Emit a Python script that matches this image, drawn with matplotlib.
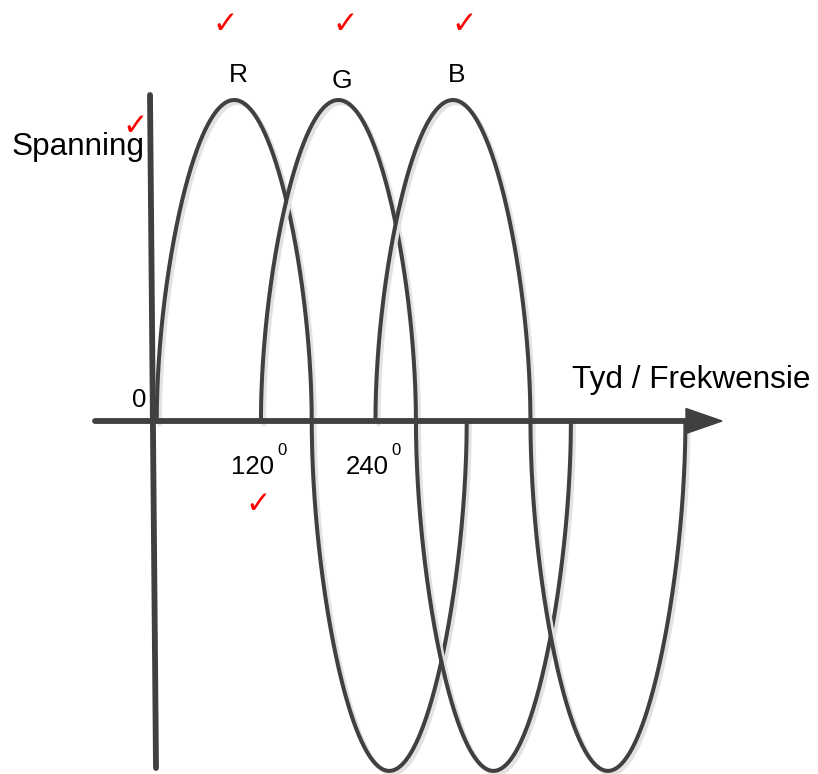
import numpy as np
import matplotlib.pyplot as plt
from matplotlib import patheffects as pe
from matplotlib.patches import Polygon

plt.rcParams['font.family'] = ['Liberation Sans', 'DejaVu Sans']

# three phase voltages, one cycle each, start angle (deg)
phases = ['R', 'G', 'B']
phase_start = [2, 123, 256]
amp_pos = [1.0, 1.0, 1.0]
amp_neg = [1.09, 1.09, 1.09]
lobe_shape = 0.53            # the sketch's lobes are fuller than a plain sine
tick_labels = ['120', '240']
tick_phase = [1, 2]          # which wave start the angle label sits under

W, H = 818, 774
X0, Y0 = 155, 421            # pixel position of origin
DPP = 360 / 310              # degrees per pixel
VPP = 1 / 321                # volts per pixel

def px(x):
    return (x - X0) * DPP

def py(y):
    return (Y0 - y) * VPP

fig = plt.figure(figsize=(W / 100, H / 100), dpi=100)
ax = fig.add_axes([0, 0, 1, 1])
ax.set_xlim(px(0), px(W))
ax.set_ylim(py(H), py(0))
ax.axis('off')

ink = '#404040'

# axes
ax.plot([px(95), px(688)], [0, 0], color=ink, lw=4.2, solid_capstyle='round', zorder=3)
ax.add_patch(Polygon([[px(686), 12.5 * VPP], [px(722), 0], [px(686), -12.5 * VPP]],
                     closed=True, color=ink, zorder=3))
ax.plot([px(150), px(156)], [py(95), py(768)], color=ink, lw=4.2,
        solid_capstyle='round', zorder=3)

# waves
theta = np.linspace(0, 360, 1500)
s = np.sin(np.radians(theta))
s = np.sign(s) * np.abs(s) ** lobe_shape
shadow = [pe.SimpleLineShadow(offset=(2.2, -2.2), shadow_color='#e2e2e2', alpha=1.0),
          pe.Normal()]
label_dy = [18, 12, 18]
for i, name in enumerate(phases):
    y = np.where(s >= 0, amp_pos[i] * s, amp_neg[i] * s)
    ax.plot(phase_start[i] + theta, y, color=ink, lw=2.9, path_effects=shadow, zorder=2)
    ax.annotate(name, xy=(phase_start[i] + 90, amp_pos[i]), xytext=(4, label_dy[i]),
                textcoords='offset pixels', ha='center', va='baseline',
                fontsize=19, color='black')

# angle labels
for lab, k in zip(tick_labels, tick_phase):
    ax.annotate(lab, xy=(phase_start[k], 0), xytext=(13, -53), textcoords='offset pixels',
                ha='right', va='baseline', fontsize=18.5, color='black')
    ax.annotate('0', xy=(phase_start[k], 0), xytext=(16, -22), textcoords='offset pixels',
                ha='left', va='top', fontsize=12, color='black')

ax.text(px(139), py(407), '0', ha='center', va='baseline', fontsize=18.5)
ax.text(px(12), py(155), 'Spanning', ha='left', va='baseline', fontsize=22.7)
ax.text(px(572), py(388), 'Tyd / Frekwensie', ha='left', va='baseline', fontsize=22.7)

# red ticks from the marker
for cx, cy in [(225, 25), (345, 25), (464, 25), (135, 127), (258, 505)]:
    ax.text(px(cx), py(cy), '\u2713', ha='center', va='center', fontsize=22,
            color='red', family='DejaVu Sans', fontweight='bold', zorder=5)

fig.savefig('out.png', dpi=100, facecolor='white')
